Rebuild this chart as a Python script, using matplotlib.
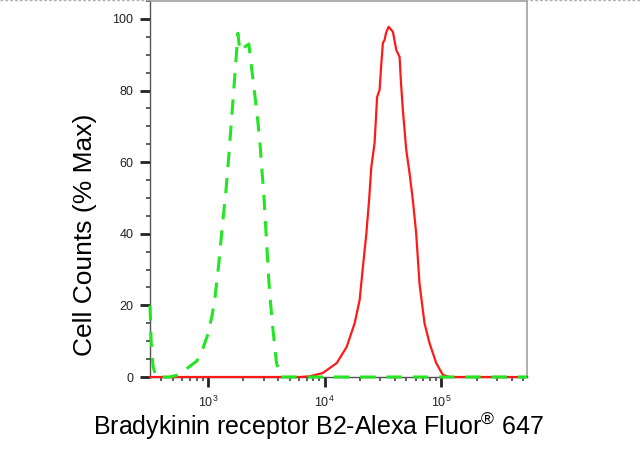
import numpy as np
import matplotlib
matplotlib.use("Agg")
import matplotlib.pyplot as plt
from matplotlib.lines import Line2D
from matplotlib.ticker import LogLocator, FixedLocator, MultipleLocator, NullFormatter

plt.rcParams['font.family'] = ['Liberation Sans', 'DejaVu Sans']
plt.rcParams['mathtext.fontset'] = 'custom'
plt.rcParams['mathtext.rm'] = 'Liberation Sans'

# isotype control (green dashed)
ctrl_x = [319, 326, 339, 359, 473, 543, 611, 701, 805, 906, 1000, 1082, 1148,
          1242, 1318, 1426, 1511, 1636, 1734, 1804, 1877, 2030, 2240, 2472,
          2623, 2781, 2895, 3010, 3135, 3240, 3321, 3420, 3560, 3860, 4200,
          10000, 100000, 540000]
ctrl_y = [20, 10, 3, 0, 0, 0.5, 1.5, 3, 4.5, 8, 12, 17, 22,
          32, 41, 52, 62, 77, 88, 96, 91, 92, 93, 81,
          74, 66, 58, 51, 41, 33, 27, 21.5, 15, 4, 0,
          0, 0, 0]

# antibody stained sample (red)
samp_x = [319, 6115, 7447, 9611, 12680, 15420, 18040, 19910, 21250, 22720,
          23990, 25060, 26740, 28100, 29510, 30400, 31500, 32570, 33500, 35240,
          38370, 41020, 43780, 45000, 46700, 49920, 53240, 56850, 60760,
          64860, 71570, 78920, 90120, 102600, 117000, 540000]
samp_y = [0, 0, 0.2, 1.1, 3.9, 8.4, 15, 21.5, 30.8, 40,
          49.4, 58.6, 65.4, 78.2, 80.2, 86.6, 93.3, 94.1, 96.1, 97.8,
          96.4, 91.3, 89.4, 82.1, 74.6, 63.4, 57, 49.4, 40,
          26, 15, 9.5, 3.9, 0.6, 0, 0]

fig = plt.figure(figsize=(6.4, 4.54), dpi=100)
ax = fig.add_axes([150 / 640, 77 / 454, 377 / 640, 376 / 454])

ax.plot(samp_x, samp_y, color='#ff1a1a', lw=1.6, clip_on=False, zorder=3)
ax.plot(ctrl_x, ctrl_y, color='#22e622', lw=2.2, dashes=(5, 3.6),
        clip_on=False, zorder=4)

ax.set_xscale('log')
ax.set_xlim(319, 540000)
ax.set_ylim(0, 105)

ax.xaxis.set_major_locator(FixedLocator([1e3, 1e4, 1e5]))
ax.set_xticklabels([r'$\mathregular{10^{3}}$', r'$\mathregular{10^{4}}$',
                    r'$\mathregular{10^{5}}$'])
ax.xaxis.set_minor_locator(LogLocator(base=10, subs=np.arange(2, 10)))
ax.xaxis.set_minor_formatter(NullFormatter())
ax.yaxis.set_major_locator(MultipleLocator(20))
ax.yaxis.set_minor_locator(MultipleLocator(5))

ax.tick_params(axis='both', which='major', direction='out', length=7,
               width=2.0, color='#222222')
ax.tick_params(axis='both', which='minor', direction='out', length=3.2,
               width=1.1, color='#333333')
ax.tick_params(axis='x', which='major', labelsize=9, pad=6,
               labelcolor='#222222')
ax.tick_params(axis='y', which='major', labelsize=9, pad=5,
               labelcolor='#222222')

for s in ['left', 'bottom']:
    ax.spines[s].set_color('#555555')
    ax.spines[s].set_linewidth(1.0)
for s in ['top', 'right']:
    ax.spines[s].set_color('#a0a0a0')
    ax.spines[s].set_linewidth(1.2)

# dashed border along the top of the picture
fig.add_artist(Line2D([0, 1], [0.999, 0.999], transform=fig.transFigure,
                      color='#b0b0b0', lw=1, ls=(0, (2, 1.5))))

fig.text(85 / 640, 1 - 235 / 454, 'Cell Counts (% Max)', rotation=90,
         ha='center', va='center', fontsize=19)
fig.text(318 / 640, 1 - 426 / 454,
         r'Bradykinin receptor B2-Alexa Fluor$^{\mathregular{®}}$ 647',
         ha='center', va='center', fontsize=18)

fig.savefig('out.png', dpi=100)
